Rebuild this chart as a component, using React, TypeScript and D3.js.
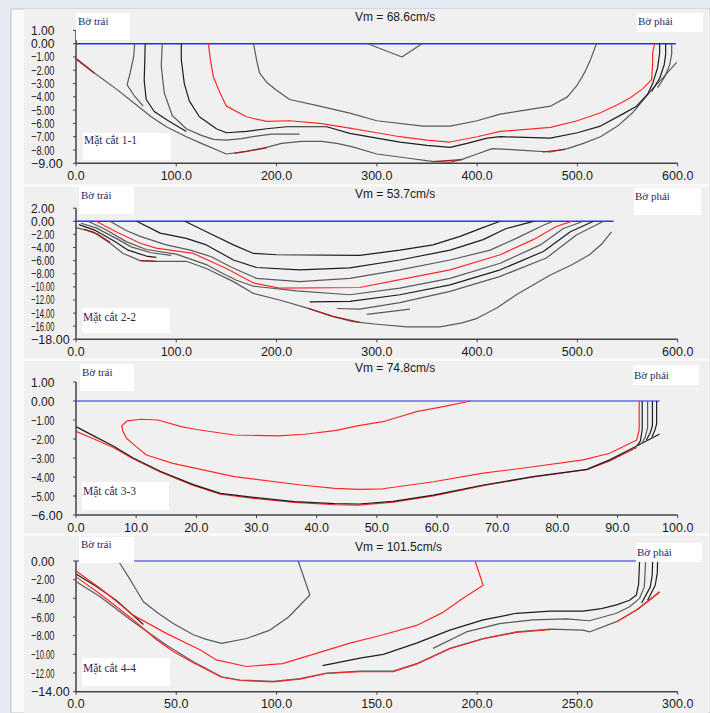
import React from "react";
import * as d3 from "d3";

type Pt = [number, number];

// ---------------- Panel 1 (Mặt cắt 1-1) ----------------
const p1XTicks = [0, 100, 200, 300, 400, 500, 600];
const p1YTicks = [1, 0, -1, -2, -3, -4, -5, -6, -7, -8, -9];
const p1Bed: Pt[] = [[0,-1.1],[20,-2.3],[40,-3.4],[60,-4.6],[75,-5.5],[90,-6.25],[110,-7.0],[125,-7.5],[150,-8.3],[170,-8.1],[190,-7.8],[205,-7.5],[225,-7.35],[245,-7.35],[260,-7.5],[275,-7.75],[300,-8.3],[330,-8.6],[355,-8.85],[373,-8.92],[385,-8.7],[400,-8.3],[415,-7.9],[430,-7.95],[450,-8.05],[473,-8.15],[490,-7.9],[506,-7.5],[523,-7.0],[540,-6.2],[555,-5.2],[566,-4.2],[576,-3.3],[586,-2.5],[599,-1.4]];
const p1BedRed1: Pt[] = [[0,-1.15],[18,-2.2]];
const p1BedRed2: Pt[] = [[158,-8.25],[190,-7.85]];
const p1BedRed3: Pt[] = [[355,-8.88],[385,-8.72]];
const p1BedRed4: Pt[] = [[465,-8.15],[488,-7.95]];
const p1LineA: Pt[] = [[58.5,0],[57.5,-1],[54,-2.2],[51,-3.1],[58,-3.9],[67,-4.7]];
const p1LineB: Pt[] = [[69,0],[68.5,-1.5],[68,-2.8],[70,-4.2],[78,-5.1],[92,-5.8],[110,-6.6]];
const p1LineC: Pt[] = [[86,0],[85,-1.7],[88,-3.7],[96,-5.4],[110,-6.4],[125,-6.9],[137,-7.2],[150,-7.25],[165,-7.15],[180,-6.95],[195,-6.8],[223,-6.8]];
const p1LineD: Pt[] = [[105,0],[105,-1.2],[108,-3.0],[113,-4.3],[123,-5.5],[140,-6.4],[150,-6.7],[170,-6.6],[190,-6.4],[210,-6.25],[250,-6.25],[273,-6.75],[300,-7.1],[323,-7.4],[350,-7.65],[373,-7.8],[390,-7.5],[410,-7.1],[423,-7.0],[473,-7.1],[500,-6.7],[523,-6.2],[545,-5.3],[559,-4.7],[570,-3.8],[575,-3.0],[580,-1.8],[582,-0.7],[582,0]];
const p1Red: Pt[] = [[132,0],[134,-1.2],[137,-2.5],[143,-3.6],[150,-4.7],[170,-5.5],[190,-5.85],[213,-5.8],[243,-6.0],[273,-6.36],[300,-6.7],[323,-7.0],[350,-7.25],[373,-7.4],[400,-7.0],[423,-6.6],[473,-6.3],[500,-5.8],[523,-5.2],[540,-4.6],[552,-4.1],[565,-3.4],[574,-2.7],[575,-1.5],[575,-0.7],[577,0]];
const p1LineE: Pt[] = [[177,0],[180,-1.2],[183,-2.2],[190,-2.9],[200,-3.5],[213,-4.2],[243,-4.7],[273,-5.23],[300,-5.8],[346,-6.2],[373,-6.2],[400,-5.8],[423,-5.3],[473,-4.7],[490,-4.0],[499,-3.2],[507,-2.2],[513,-1.2],[519,0]];
const p1LineF: Pt[] = [[588,0],[588,-0.8],[586.5,-1.6],[582,-2.6],[574,-3.6]];
const p1LineG: Pt[] = [[594,0],[594,-0.8],[592,-1.6],[587,-2.5],[580,-3.3]];
const p1LineV: Pt[] = [[291,0],[325,-1.0],[345,0]];

// ---------------- Panel 2 (Mặt cắt 2-2) ----------------
const p2XTicks = [0, 100, 200, 300, 400, 500, 600];
const p2YTicks = [2, 0, -2, -4, -6, -8, -10, -12, -14, -16, -18];
const p2Bed: Pt[] = [[0,-0.96],[17,-1.6],[34,-3.35],[47,-4.9],[64,-6.0],[80,-6.1],[110,-6.1],[130,-7.2],[157,-9.2],[177,-11.0],[203,-12.0],[230,-13.2],[256,-14.5],[276,-15.3],[300,-15.7],[330,-16.1],[363,-16.1],[385,-15.5],[400,-14.8],[420,-13.2],[439,-11.2],[473,-8.2],[495,-6.6],[512,-5.1],[524,-3.5],[534,-1.6]];
const p2BedRed1: Pt[] = [[8,-1.2],[22,-2.0],[34,-3.2]];
const p2BedRed2: Pt[] = [[64,-6.0],[80,-6.1]];
const p2BedRed3: Pt[] = [[232,-13.3],[256,-14.5],[283,-15.4]];
const p2L1: Pt[] = [[108.6,0],[130,-1.6],[157,-3.6],[177,-4.9],[200,-5.1],[283,-5.2],[323,-4.4],[356,-3.6],[383,-2.3],[405,-1.0],[423,0]];
const p2L2: Pt[] = [[60.5,0],[84,-1.8],[110,-2.6],[130,-3.6],[157,-5.9],[180,-7.05],[223,-7.4],[273,-7.1],[323,-5.9],[373,-4.4],[406,-2.8],[429,-1.1],[456,0]];
const p2L3: Pt[] = [[34,0],[50,-1.4],[64,-2.3],[90,-3.6],[114,-4.4],[135,-5.4],[155,-7.0],[180,-8.7],[223,-9.2],[273,-8.7],[323,-7.4],[373,-5.9],[413,-4.4],[439,-2.6],[466,-0.6],[476,0]];
const p2Red: Pt[] = [[20,0],[40,-1.6],[64,-3.35],[80,-4.1],[117,-4.9],[150,-7.2],[177,-9.4],[203,-10.2],[283,-10.1],[323,-8.9],[373,-7.4],[423,-5.1],[456,-2.8],[479,-0.8],[494,0]];
const p2L5: Pt[] = [[12,0],[30,-1.3],[50,-3.1],[70,-4.3],[100,-5.0],[130,-6.6],[143,-7.7],[160,-9.0],[177,-9.9],[220,-10.6],[273,-11.2],[323,-10.2],[373,-8.7],[423,-6.4],[463,-3.6],[486,-1.1],[506,0]];
const p2S1: Pt[] = [[5,-0.3],[20,-1.0],[40,-2.6],[55,-3.9],[75,-4.8],[95,-5.2]];
const p2S2: Pt[] = [[3,-0.5],[18,-1.3],[38,-3.0],[52,-4.4],[70,-5.3],[80,-5.5]];
const p2L6: Pt[] = [[233,-12.3],[273,-12.2],[323,-11.2],[373,-9.7],[423,-7.4],[466,-4.6],[493,-1.6],[516,0]];
const p2L7: Pt[] = [[260,-13.3],[283,-13.4],[323,-12.4],[373,-10.7],[423,-8.4],[469,-5.6],[499,-2.1],[526,0]];
const p2S3: Pt[] = [[290,-14.2],[333,-13.4]];

// ---------------- Panel 3 (Mặt cắt 3-3) ----------------
const p3XTicks = [0, 10, 20, 30, 40, 50, 60, 70, 80, 90, 100];
const p3YTicks = [1, 0, -1, -2, -3, -4, -5, -6];
const p3Bed: Pt[] = [[0,-1.35],[3,-1.85],[6.2,-2.37],[9.5,-3.0],[14,-3.7],[19.5,-4.4],[24,-4.86],[29.5,-5.07],[36.3,-5.3],[43,-5.4],[47,-5.42],[52.7,-5.28],[59.4,-4.95],[67.7,-4.42],[76,-3.98],[84.9,-3.6],[88.7,-3.1],[93.2,-2.37],[97,-1.74]];
const p3RedBed: Pt[] = [[0,-1.6],[3,-2.0],[6.2,-2.45],[9.5,-3.04],[14,-3.74],[19.5,-4.44],[24,-4.9],[29.5,-5.12],[36.3,-5.34],[43,-5.46],[47,-5.48],[52.7,-5.32],[59.4,-4.99],[67.7,-4.45],[76,-4.0],[84.9,-3.62],[88.7,-3.15],[93.2,-2.45]];
const p3Red: Pt[] = [[65.6,0],[61,-0.3],[56.6,-0.56],[51,-1.09],[47,-1.3],[43,-1.56],[38,-1.75],[33.6,-1.84],[26.3,-1.79],[20,-1.5],[17.5,-1.35],[13.6,-1.0],[10.8,-0.96],[8.5,-1.05],[7.6,-1.3],[7.8,-1.6],[8.4,-1.96],[10,-2.4],[11.7,-2.84],[16.1,-3.28],[26.3,-3.98],[37.4,-4.42],[43,-4.6],[47,-4.65],[51,-4.62],[59.4,-4.25],[67.7,-3.8],[76,-3.46],[84.3,-3.1],[88.7,-2.75],[93.2,-2.05],[93.6,-1.5],[93.6,0]];
const p3B1: Pt[] = [[94.1,0],[94.1,-1.5],[93.8,-2.1],[93.3,-2.35]];
const p3B2: Pt[] = [[95.0,0],[95.0,-1.4],[94.6,-1.9],[94.0,-2.25]];
const p3B3: Pt[] = [[95.8,0],[95.8,-1.3],[95.4,-1.7],[94.8,-2.05]];
const p3B4: Pt[] = [[96.5,0],[96.5,-1.2],[96.2,-1.55],[95.7,-1.9]];

// ---------------- Panel 4 (Mặt cắt 4-4) ----------------
const p4XTicks = [0, 50, 100, 150, 200, 250, 300];
const p4YTicks = [0, -2, -4, -6, -8, -10, -12, -14];
const p4Inner: Pt[] = [[21.1,0],[25,-1.3],[28.6,-2.57],[33.6,-4.36],[41,-5.6],[48.5,-6.7],[58.5,-7.9],[65,-8.4],[72.6,-8.82],[85,-8.3],[96.7,-7.4],[106,-6.0],[116.6,-3.64],[110.8,0]];
const p4RedA: Pt[] = [[0,-1.07],[11.9,-2.9],[20,-4.3],[28.5,-5.8],[45,-7.75],[61.8,-9.5],[70,-10.6],[85,-11.3],[103,-11.0],[119.8,-9.9],[136.6,-8.8],[153.2,-7.9],[169.8,-6.9],[183,-5.5],[193,-4.0],[203,-2.6],[199,0]];
const p4BlackB: Pt[] = [[0,-1.4],[10,-2.7],[20,-4.2],[33.6,-6.8]];
const p4RedC: Pt[] = [[0,-1.7],[11.9,-3.5],[28.5,-6.3],[40,-8.4],[48.5,-9.7],[58.5,-10.9],[72.6,-12.45],[81.8,-12.8],[98.4,-12.95],[111.7,-12.65],[125,-12.05],[141.6,-11.85],[158.2,-11.85],[169.8,-11.05],[186.4,-9.4],[203,-8.35],[219.6,-7.65],[236.3,-7.35]];
const p4Bed: Pt[] = [[0,-2.2],[11.9,-3.8],[28.5,-6.5],[45,-9.0],[58.5,-10.8],[72.6,-12.4],[81.8,-12.75],[98.4,-12.9],[111.7,-12.6],[125,-12.0],[141.6,-11.8],[158.2,-11.8],[169.8,-11.0],[186.4,-9.36],[203,-8.3],[219.6,-7.6],[236.3,-7.3],[252.8,-7.4],[256,-7.6],[269.5,-6.5],[279.4,-5.25],[291,-3.3]];
const p4BedRed: Pt[] = [[270,-6.45],[280,-5.2],[291,-3.35]];
const p4M1: Pt[] = [[122.9,-11.2],[141.6,-10.4],[153.2,-10.0],[169.8,-8.8],[186.4,-7.4],[203,-6.3],[219.6,-5.6],[236.3,-5.36],[252.8,-5.36],[262,-5.1],[269.5,-4.7],[276,-4.2],[279.4,-3.64],[280.5,-2.5],[280.7,-1.5],[281,0]];
const p4M2: Pt[] = [[178,-9.36],[194.6,-7.6],[211.2,-6.7],[227.8,-6.3],[244.5,-6.2],[256,-6.4],[269.5,-5.6],[276,-4.9],[281,-4.0],[283.3,-2.8],[283.6,-1.86],[284,0]];
const p4M3: Pt[] = [[287.5,0],[287.3,-1.5],[286.3,-2.8],[282,-4.5]];
const p4M4: Pt[] = [[290,0],[289.8,-1.3],[288.8,-2.6],[285,-4.2]];

const titles = ["Vm = 68.6cm/s", "Vm = 53.7cm/s", "Vm = 74.8cm/s", "Vm = 101.5cm/s"];
const sections = ["Mặt cắt 1-1", "Mặt cắt 2-2", "Mặt cắt 3-3", "Mặt cắt 4-4"];
const surfaceEnds = [598, 536, 97, 291];

const BLACK = "#1e1e1e";
const GRAY = "#5a5a5a";
const RED = "#ff2a2a";
const DRED = "#b01818";

type LineSpec = { pts: Pt[]; color: string };
type Rect = [number, number, number, number];

interface PanelCfg {
  top: number; bottom: number;
  xDomain: [number, number]; xTicks: number[];
  yDomain: [number, number]; yRange: [number, number]; yTicks: number[];
  title: string; titleY: number; section: string; surfaceEnd: number;
  lines: LineSpec[];
  leftBox: Rect; leftTextY: number;
  rightBox: Rect; rightTextY: number;
  secBox: Rect; secTextY: number;
  blue: string;
}

const panels: PanelCfg[] = [
  {
    top: 9, bottom: 184, xDomain: [0, 600], xTicks: p1XTicks, yDomain: [-9, 1], yRange: [163.3, 30.4], yTicks: p1YTicks,
    title: titles[0], titleY: 21, section: sections[0], surfaceEnd: surfaceEnds[0], blue: "#2a2aff",
    lines: [
      { pts: p1Bed, color: GRAY }, { pts: p1BedRed1, color: DRED }, { pts: p1BedRed2, color: DRED }, { pts: p1BedRed3, color: DRED }, { pts: p1BedRed4, color: DRED },
      { pts: p1LineA, color: GRAY }, { pts: p1LineB, color: BLACK }, { pts: p1LineC, color: GRAY }, { pts: p1LineD, color: BLACK },
      { pts: p1Red, color: RED }, { pts: p1LineE, color: GRAY }, { pts: p1LineF, color: BLACK }, { pts: p1LineG, color: GRAY }, { pts: p1LineV, color: GRAY },
    ],
    leftBox: [76, 13, 54, 27], leftTextY: 25, rightBox: [637, 13, 66, 19], rightTextY: 25, secBox: [83, 133, 88, 27], secTextY: 144,
  },
  {
    top: 187, bottom: 358, xDomain: [0, 600], xTicks: p2XTicks, yDomain: [-18, 2], yRange: [339.3, 208.2], yTicks: p2YTicks,
    title: titles[1], titleY: 198, section: sections[1], surfaceEnd: surfaceEnds[1], blue: "#3030ff",
    lines: [
      { pts: p2Bed, color: GRAY }, { pts: p2BedRed1, color: DRED }, { pts: p2BedRed2, color: DRED }, { pts: p2BedRed3, color: DRED },
      { pts: p2S1, color: GRAY }, { pts: p2S2, color: BLACK }, { pts: p2L1, color: BLACK }, { pts: p2L2, color: BLACK }, { pts: p2L3, color: GRAY },
      { pts: p2Red, color: RED }, { pts: p2L5, color: GRAY }, { pts: p2L6, color: BLACK }, { pts: p2L7, color: GRAY }, { pts: p2S3, color: GRAY },
    ],
    leftBox: [79, 187, 55, 27], leftTextY: 199, rightBox: [634, 188, 67, 27], rightTextY: 200, secBox: [82, 308, 88, 25], secTextY: 321,
  },
  {
    top: 361, bottom: 533, xDomain: [0, 100], xTicks: p3XTicks, yDomain: [-6, 1], yRange: [515, 382], yTicks: p3YTicks,
    title: titles[2], titleY: 372, section: sections[2], surfaceEnd: surfaceEnds[2], blue: "#6868f4",
    lines: [
      { pts: p3RedBed, color: RED }, { pts: p3Bed, color: BLACK }, { pts: p3Red, color: RED },
      { pts: p3B1, color: BLACK }, { pts: p3B2, color: GRAY }, { pts: p3B3, color: BLACK }, { pts: p3B4, color: BLACK },
    ],
    leftBox: [80, 364, 54, 27], leftTextY: 376, rightBox: [633, 365, 66, 20], rightTextY: 379, secBox: [82, 482, 87, 28], secTextY: 495,
  },
  {
    top: 536, bottom: 713, xDomain: [0, 300], xTicks: p4XTicks, yDomain: [-14, 0], yRange: [691.7, 561], yTicks: p4YTicks,
    title: titles[3], titleY: 551, section: sections[3], surfaceEnd: surfaceEnds[3], blue: "#6a6af4",
    lines: [
      { pts: p4Bed, color: GRAY }, { pts: p4RedC, color: RED }, { pts: p4BedRed, color: RED }, { pts: p4BlackB, color: BLACK },
      { pts: p4RedA, color: RED }, { pts: p4Inner, color: GRAY },
      { pts: p4M1, color: BLACK }, { pts: p4M2, color: GRAY }, { pts: p4M3, color: BLACK }, { pts: p4M4, color: BLACK },
    ],
    leftBox: [79, 537, 55, 26], leftTextY: 548, rightBox: [636, 543, 66, 19], rightTextY: 556, secBox: [82, 658, 88, 28], secTextY: 672,
  },
];

const PLOT_L = 76;
const PLOT_R = 677.7;

function Panel({ cfg }: { cfg: PanelCfg }) {
  const x = d3.scaleLinear().domain(cfg.xDomain).range([PLOT_L, PLOT_R]);
  const y = d3.scaleLinear().domain(cfg.yDomain).range(cfg.yRange);
  const line = d3.line<Pt>().x((d) => x(d[0])).y((d) => y(d[1]));
  const fx = d3.format(".1f");
  const fy = d3.format(".2f");
  const axisY0 = cfg.yRange[0];
  const axisY1 = cfg.yRange[1];
  const lastTick = cfg.yTicks[cfg.yTicks.length - 1];
  const tickFont = "'Liberation Sans', Arial, sans-serif";
  const serif = "'Liberation Serif', 'Times New Roman', serif";
  return (
    <g>
      <rect x={24} y={cfg.top} width={684} height={cfg.bottom - cfg.top} fill="#f0f0f0" />
      <line x1={x(0)} x2={x(cfg.surfaceEnd)} y1={y(0)} y2={y(0)} stroke={cfg.blue} strokeWidth={1.5} />
      {cfg.lines.map((l, i) => (
        <path key={i} d={line(l.pts) || ""} fill="none" stroke={l.color} strokeWidth={1.2} strokeLinejoin="round" />
      ))}
      <line x1={PLOT_L} x2={PLOT_L} y1={axisY1} y2={axisY0} stroke="#444" strokeWidth={1.5} />
      <line x1={PLOT_L} x2={PLOT_R} y1={axisY0} y2={axisY0} stroke="#444" strokeWidth={1.5} />
      {cfg.yTicks.map((t) => (
        <g key={"y" + t}>
          <line x1={PLOT_L - 3} x2={PLOT_L} y1={y(t)} y2={y(t)} stroke="#444" strokeWidth={1} />
          <text
            x={31}
            y={y(t)}
            dy="0.36em"
            fontFamily={tickFont}
            fontSize={12.5}
            fill="#1a1a1a"
            {...(t !== lastTick ? { textLength: 23.5, lengthAdjust: "spacingAndGlyphs" } : {})}
          >
            {fy(t)}
          </text>
        </g>
      ))}
      {cfg.xTicks.map((t) => (
        <g key={"x" + t}>
          <line x1={x(t)} x2={x(t)} y1={axisY0} y2={axisY0 + 3} stroke="#444" strokeWidth={1} />
          <text x={x(t)} y={axisY0 + 16.5} textAnchor="middle" fontFamily={tickFont} fontSize={12.5} fill="#1a1a1a">
            {fx(t)}
          </text>
        </g>
      ))}
      <text x={355} y={cfg.titleY} fontFamily={tickFont} fontSize={12} fill="#1a1a1a">{cfg.title}</text>
      <rect x={cfg.leftBox[0]} y={cfg.leftBox[1]} width={cfg.leftBox[2]} height={cfg.leftBox[3]} fill="#ffffff" />
      <text x={cfg.leftBox[0] + 2} y={cfg.leftTextY} fontFamily={serif} fontSize={11} fill="#1f2a66">Bờ trái</text>
      <rect x={cfg.rightBox[0]} y={cfg.rightBox[1]} width={cfg.rightBox[2]} height={cfg.rightBox[3]} fill="#ffffff" />
      <text x={cfg.rightBox[0] + 1} y={cfg.rightTextY} fontFamily={serif} fontSize={11} fill="#1f2a66">Bờ phải</text>
      <rect x={cfg.secBox[0]} y={cfg.secBox[1]} width={cfg.secBox[2]} height={cfg.secBox[3]} fill="#ffffff" />
      <text x={cfg.secBox[0] + 1} y={cfg.secTextY} fontFamily={serif} fontSize={11.5} fill="#2a2a55">{cfg.section}</text>
    </g>
  );
}

export default function App() {
  return (
    <div style={{ position: "absolute", left: 0, top: 0 }}>
      <svg width={710} height={713} style={{ display: "block" }}>
        <rect x={0} y={0} width={710} height={713} fill="#e6eaf4" />
        <rect x={11} y={9} width={699} height={704} fill="#f9f9f9" stroke="#c4c4c4" strokeWidth={1} />
        {panels.map((p, i) => (
          <Panel key={i} cfg={p} />
        ))}
      </svg>
    </div>
  );
}
